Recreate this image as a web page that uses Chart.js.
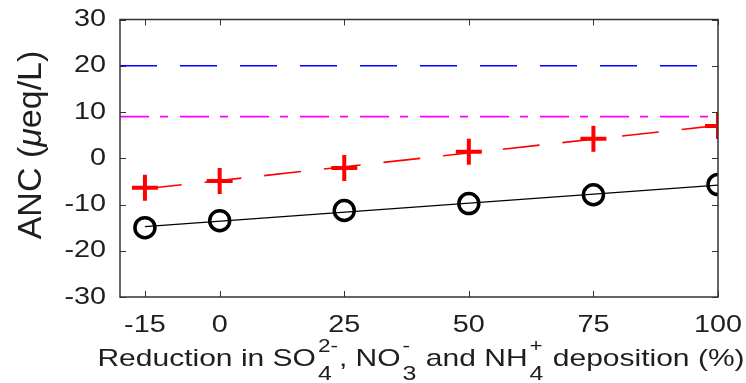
<!DOCTYPE html>
<html>
<head>
<meta charset="utf-8">
<script src="https://cdn.jsdelivr.net/npm/chart.js@4"></script>
<style>
  html, body { margin: 0; padding: 0; background: #fff; }
  #wrap { width: 746px; height: 383px; position: relative; }
</style>
</head>
<body>
<div id="wrap"><canvas id="chart_canvas"></canvas></div>
<script>
"use strict";
// reduction levels (%)
const reductions = [-15, 0, 25, 50, 75, 100];
// ANC, black circles and red plus markers
const anc_circles = [-15.0, -13.5, -11.3, -9.8, -7.9, -5.7];
const anc_plus = [-6.4, -4.9, -2.1, 1.4, 4.2, 7.0];
// trend lines, ends
const fit_x = [-15, 100];
const fit_circles = [-14.8, -5.8];
const fit_plus = [-6.6, 7.1];
// reference levels
const ref_x = [-20, 100];
const ref_blue = 20;
const ref_magenta = 9;
const y_ticks = [-30, -20, -10, 0, 10, 20, 30];

const FONT = "'Liberation Sans', Arial, Helvetica, sans-serif";
const TXT = "#1e1e1e";
const STRETCH = 1.2; // labels in the picture are wide

function pts(xs, ys) {
  return xs.map((x, i) => ({ x: x, y: ys[i] }));
}

function wide_text(ctx, txt, x, y, align, sx) {
  const w = ctx.measureText(txt).width * sx;
  let left = x;
  if (align === "center") left = x - w / 2;
  else if (align === "right") left = x - w;
  ctx.save();
  ctx.translate(left, y);
  ctx.scale(sx, 1);
  ctx.textAlign = "left";
  ctx.fillText(txt, 0, 0);
  ctx.restore();
}

const box_plugin = {
  id: "box",
  afterDraw(chart) {
    const ctx = chart.ctx;
    const a = chart.chartArea;
    const xs = chart.scales.x, ys = chart.scales.y;
    ctx.save();
    ctx.strokeStyle = "#333";
    ctx.lineWidth = 1.5;
    ctx.strokeRect(a.left, a.top, a.right - a.left, a.bottom - a.top);
    ctx.lineWidth = 1;
    ctx.beginPath();
    const tl = 6;
    reductions.forEach(v => {
      const px = Math.round(xs.getPixelForValue(v)) + 0.5;
      ctx.moveTo(px, a.bottom); ctx.lineTo(px, a.bottom - tl);
      ctx.moveTo(px, a.top); ctx.lineTo(px, a.top + tl);
    });
    y_ticks.forEach(v => {
      const py = Math.round(ys.getPixelForValue(v)) + 0.5;
      ctx.moveTo(a.left, py); ctx.lineTo(a.left + tl, py);
      ctx.moveTo(a.right, py); ctx.lineTo(a.right - tl, py);
    });
    ctx.stroke();

    // tick labels
    ctx.fillStyle = TXT;
    ctx.font = "24px " + FONT;
    ctx.textBaseline = "middle";
    y_ticks.forEach(v => {
      wide_text(ctx, String(v), a.left - 14, ys.getPixelForValue(v), "right", STRETCH);
    });
    reductions.forEach(v => {
      wide_text(ctx, String(v), xs.getPixelForValue(v), a.bottom + 28, "center", STRETCH);
    });
    ctx.restore();

    // y title
    ctx.save();
    ctx.fillStyle = TXT;
    ctx.translate(41, 145);
    ctx.rotate(-Math.PI / 2);
    ctx.textBaseline = "alphabetic";
    const parts = [["ANC (", "normal"], ["\u03bc", "italic"], ["eq/L)", "normal"]];
    let w = 0;
    parts.forEach(p => { ctx.font = p[1] + " 34px " + FONT; w += ctx.measureText(p[0]).width; });
    let x = -w / 2;
    parts.forEach(p => {
      ctx.font = p[1] + " 34px " + FONT;
      ctx.fillText(p[0], x, 0);
      x += ctx.measureText(p[0]).width;
    });
    ctx.restore();

    // x title with sub/superscripts
    ctx.save();
    ctx.fillStyle = TXT;
    ctx.textBaseline = "alphabetic";
    const big = "24px " + FONT, sup_f = "18px " + FONT, sub_f = "20px " + FONT;
    const sx = 1.25;
    const runs = [
      { t: "Reduction in SO" },
      { sup: "2-", sub: "4" },
      { t: ", NO" },
      { sup: "-", sub: "3" },
      { t: " and NH" },
      { sup: "+", sub: "4" },
      { t: " deposition (%)" }
    ];
    function run_width(r) {
      if (r.t) { ctx.font = big; return ctx.measureText(r.t).width * sx; }
      ctx.font = sup_f;
      const a1 = ctx.measureText(r.sup).width;
      ctx.font = sub_f;
      const a2 = ctx.measureText(r.sub).width;
      return Math.max(a1, a2) * sx + 3;
    }
    let total = 0;
    runs.forEach(r => total += run_width(r));
    let cx = (a.left + a.right) / 2 + 2 - total / 2;
    const base = 366;
    runs.forEach(r => {
      const rw = run_width(r);
      if (r.t) {
        ctx.font = big;
        wide_text(ctx, r.t, cx, base, "left", sx);
      } else {
        ctx.font = sup_f;
        wide_text(ctx, r.sup, cx + 2, base - 14, "left", sx);
        ctx.font = sub_f;
        wide_text(ctx, r.sub, cx + 2, base + 14, "left", sx);
      }
      cx += rw;
    });
    ctx.restore();
  }
};

const chart_canvas = document.getElementById("chart_canvas");
new Chart(chart_canvas, {
  type: "scatter",
  data: {
    datasets: [
      {
        label: "circles",
        data: pts(reductions, anc_circles),
        pointStyle: "circle",
        pointRadius: 10,
        pointBorderWidth: 3.5,
        pointBorderColor: "#000",
        pointBackgroundColor: "rgba(0,0,0,0)",
        showLine: false
      },
      {
        label: "plus",
        data: pts(reductions, anc_plus),
        pointStyle: "cross",
        pointRadius: 13,
        pointBorderWidth: 4,
        pointBorderColor: "#ff0000",
        showLine: false
      },
      {
        label: "fit circles",
        data: pts(fit_x, fit_circles),
        showLine: true,
        pointRadius: 0,
        borderColor: "#000",
        borderWidth: 1.3
      },
      {
        label: "fit plus",
        data: pts(fit_x, fit_plus),
        showLine: true,
        pointRadius: 0,
        borderColor: "#ff0000",
        borderWidth: 1.6,
        borderDash: [37, 23]
      },
      {
        label: "blue",
        data: pts(ref_x, [ref_blue, ref_blue]),
        showLine: true,
        pointRadius: 0,
        borderColor: "#0000ff",
        borderWidth: 1.6,
        borderDash: [37, 23]
      },
      {
        label: "magenta",
        data: pts(ref_x, [ref_magenta, ref_magenta]),
        showLine: true,
        pointRadius: 0,
        borderColor: "#ff00ff",
        borderWidth: 1.6,
        borderDash: [29, 11, 8, 12]
      }
    ]
  },
  options: {
    responsive: true,
    maintainAspectRatio: false,
    animation: false,
    layout: { padding: { top: 19.5, right: 28, left: 0, bottom: 0 } },
    plugins: {
      legend: { display: false },
      tooltip: { enabled: false }
    },
    scales: {
      x: {
        type: "linear",
        min: -20,
        max: 100,
        afterBuildTicks: s => { s.ticks = reductions.map(v => ({ value: v })); },
        afterFit: s => { s.height = 86; },
        grid: { display: false, drawTicks: false },
        border: { display: false },
        ticks: { display: false }
      },
      y: {
        min: -30,
        max: 30,
        afterBuildTicks: s => { s.ticks = y_ticks.map(v => ({ value: v })); },
        afterFit: s => { s.width = 120; },
        grid: { display: false, drawTicks: false },
        border: { display: false },
        ticks: { display: false }
      }
    }
  },
  plugins: [box_plugin]
});
</script>
</body>
</html>
